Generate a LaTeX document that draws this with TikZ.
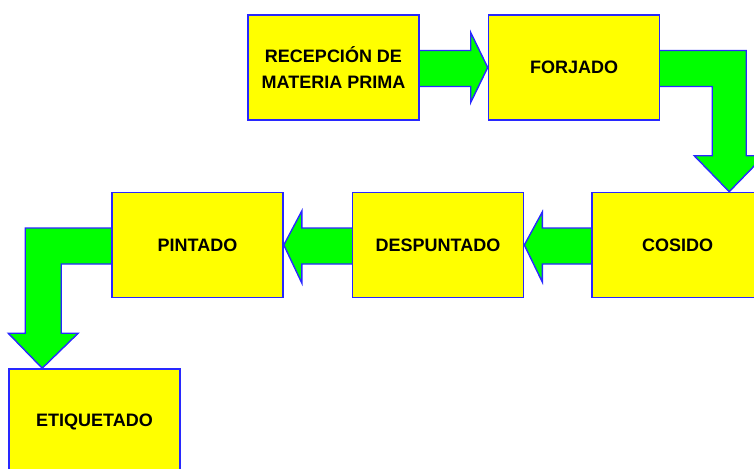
\documentclass[tikz,border=0pt]{standalone}
\usepackage{fontspec}
\setmainfont{Liberation Sans}
\usetikzlibrary{calc}
\definecolor{boxyellow}{RGB}{255,255,0}
\definecolor{edgeblue}{RGB}{40,40,255}
\definecolor{arrowgreen}{RGB}{0,255,0}
\begin{document}
\begin{tikzpicture}[x=1pt,y=-1pt,
  stepbox/.style={draw=edgeblue,line width=1.6pt,fill=boxyellow,minimum width=171pt,minimum height=105pt,inner sep=0pt,align=center,font=\bfseries\fontsize{18}{26}\selectfont},
  fatarrow/.style={draw=edgeblue,line width=1.4pt,fill=arrowgreen,line join=miter}]
\useasboundingbox (0,0) rectangle (754,468);
\begin{scope}
\clip (0,0) rectangle (754,468);
% boxes (positions)
\path node[stepbox,draw=none,fill=none] (rec) at (333.5,67.5) {}
      node[stepbox,draw=none,fill=none] (forj) at (574,67.5) {}
      node[stepbox,draw=none,fill=none] (cos) at (677.5,245) {}
      node[stepbox,draw=none,fill=none] (desp) at (438,245) {}
      node[stepbox,draw=none,fill=none] (pint) at (197.5,245) {}
      node[stepbox,draw=none,fill=none] (etiq) at (94.5,421.5) {};
\coordinate (tipA) at ($(cos.north west)+(138,0)$);
\coordinate (tipB) at ($(etiq.north west)+(34,0)$);
% helper coordinates for the elbow arrows
\coordinate (fe1) at ($(forj.east)+(0,-17)$);
\coordinate (fe2) at ($(forj.east)+(0,19)$);
\coordinate (ta1) at ($(tipA)+(17,0)$);
\coordinate (ta2) at ($(tipA)+(-17,0)$);
\coordinate (pw1) at ($(pint.west)+(0,-17)$);
\coordinate (pw2) at ($(pint.west)+(0,19)$);
\coordinate (tb1) at ($(tipB)+(-17,0)$);
\coordinate (tb2) at ($(tipB)+(19,0)$);
% arrows
\draw[fatarrow] ($(rec.east)+(-2,-17)$) -- ($(forj.west)+(-17,-17)$) -- ($(forj.west)+(-17,-35)$) -- (forj.west)
  -- ($(forj.west)+(-17,35)$) -- ($(forj.west)+(-17,19)$) -- ($(rec.east)+(-2,19)$) -- cycle;
\draw[fatarrow] ($(fe1)+(-2,0)$) -- (ta1 |- fe1) -- ($(tipA)+(17,-36)$)
  -- ($(tipA)+(35,-36)$) -- (tipA) -- ($(tipA)+(-35,-36)$) -- ($(tipA)+(-17,-36)$)
  -- (ta2 |- fe2) -- ($(fe2)+(-2,0)$) -- cycle;
\draw[fatarrow] ($(cos.west)+(2,-17)$) -- ($(desp.east)+(18,-17)$) -- ($(desp.east)+(18,-33)$) -- (desp.east)
  -- ($(desp.east)+(18,37)$) -- ($(desp.east)+(18,19)$) -- ($(cos.west)+(2,19)$) -- cycle;
\draw[fatarrow] ($(desp.west)+(2,-17)$) -- ($(pint.east)+(18,-17)$) -- ($(pint.east)+(18,-34)$) -- (pint.east)
  -- ($(pint.east)+(18,38)$) -- ($(pint.east)+(18,19)$) -- ($(desp.west)+(2,19)$) -- cycle;
\draw[fatarrow] ($(pw1)+(2,0)$) -- (tb1 |- pw1) -- ($(tipB)+(-17,-35)$)
  -- ($(tipB)+(-34,-35)$) -- (tipB) -- ($(tipB)+(36,-35)$) -- ($(tipB)+(19,-35)$)
  -- (tb2 |- pw2) -- ($(pw2)+(2,0)$) -- cycle;
% boxes drawn
\node[stepbox] at (rec) {RECEPCIÓN DE\\MATERIA PRIMA};
\node[stepbox] at (forj) {FORJADO};
\node[stepbox] at (cos) {COSIDO};
\node[stepbox] at (desp) {DESPUNTADO};
\node[stepbox] at (pint) {PINTADO};
\node[stepbox] at (etiq) {ETIQUETADO};
\end{scope}
\end{tikzpicture}
\end{document}
